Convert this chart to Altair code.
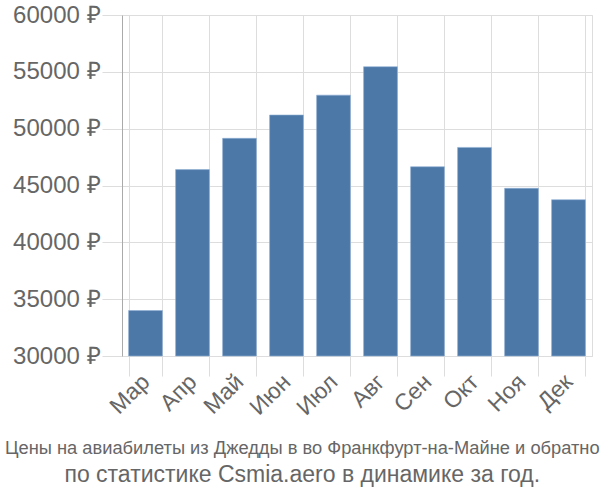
import altair as alt
import pandas as pd

months = ["Мар", "Апр", "Май", "Июн", "Июл", "Авг", "Сен", "Окт", "Ноя", "Дек"]
prices = [34000, 46400, 49150, 51200, 52950, 55450, 46650, 48350, 44750, 43750]
y_ticks = [30000, 35000, 40000, 45000, 50000, 55000, 60000]
title_line1 = "Цены на авиабилеты из Джедды в во Франкфурт-на-Майне и обратно"
title_line2 = "по статистике Csmia.aero в динамике за год."

df = pd.DataFrame({"month": months, "price": prices})

font = "Liberation Sans"

chart = alt.Chart(df).mark_bar(
    color="#4c78a8", stroke="#8fb0d6", strokeWidth=1, strokeOpacity=0.6
).encode(
    x=alt.X("month:N", sort=months, title=None,
            scale=alt.Scale(paddingInner=0.28, paddingOuter=0.14),
            axis=alt.Axis(labelAngle=-45, labelAlign="right", labelBaseline="middle",
                          labelFontSize=23, labelColor="#666666", labelFont=font,
                          tickBand="extent", tickSize=20, tickColor="#dddddd",
                          domainColor="#dddddd", gridColor="#dddddd", grid=True,
                          labelPadding=2)),
    y=alt.Y("price:Q", title=None,
            scale=alt.Scale(domain=[30000, 60000], nice=False, zero=False),
            axis=alt.Axis(values=y_ticks, labelExpr="datum.value + ' ₽'",
                          labelFontSize=24, labelColor="#666666", labelFont=font,
                          tickSize=20, tickColor="#dddddd", gridColor="#dddddd",
                          domainColor="#aaaaaa", labelPadding=2)),
    y2=alt.Y2(datum=30000),
).properties(
    width=600,
    height=500,
    autosize=alt.AutoSizeParams(type="fit", contains="padding"),
    title=alt.TitleParams(
        text=title_line1, subtitle=title_line2, orient="bottom", anchor="middle",
        frame="bounds",
        font=font, fontSize=18.3, fontWeight="normal", color="#666666",
        subtitleFont=font, subtitleFontSize=23, subtitleColor="#666666",
        offset=20, subtitlePadding=6,
    ),
).configure_view(stroke=None).configure(padding={"left": 12, "top": 3, "right": 8, "bottom": 13})

chart.save("out.html", embed_options={"renderer": "svg", "actions": False})
